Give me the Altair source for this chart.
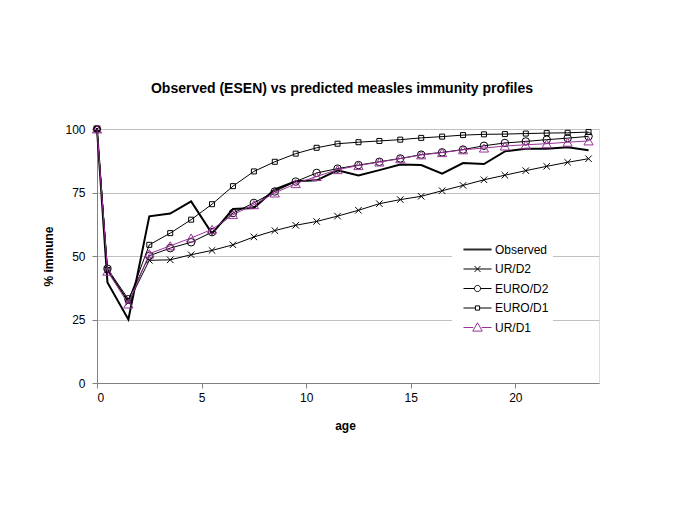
import altair as alt
import pandas as pd

ages = [0, 0.5, 1.5, 2.5, 3.5, 4.5, 5.5, 6.5, 7.5, 8.5, 9.5, 10.5, 11.5,
        12.5, 13.5, 14.5, 15.5, 16.5, 17.5, 18.5, 19.5, 20.5, 21.5, 22.5, 23.5]

observed = [100, 39.6, 25.0, 65.6, 66.7, 71.5, 58.8, 68.5, 68.9, 76.2, 79.4, 79.8, 83.7,
            81.7, 83.8, 86.0, 85.8, 82.4, 86.6, 86.2, 91.2, 92.2, 92.2, 92.8, 91.6]
ur_d2 = [100, 44.5, 31.7, 48.3, 48.5, 50.5, 52.2, 54.4, 57.5, 60.0, 62.1, 63.6, 65.7,
         68.0, 70.6, 72.2, 73.5, 75.7, 77.8, 80.0, 81.8, 83.6, 85.3, 86.9, 88.3]
euro_d2 = [100, 45.0, 33.0, 50.1, 53.1, 55.4, 59.4, 66.9, 70.9, 75.4, 79.3, 82.7, 84.4,
           85.8, 87.1, 88.4, 89.9, 90.8, 91.9, 93.4, 94.5, 95.1, 95.8, 96.4, 97.1]
euro_d1 = [100, 44.5, 32.3, 54.4, 59.0, 64.3, 70.4, 77.5, 83.3, 87.1, 90.3, 92.6, 94.2,
           94.8, 95.3, 95.8, 96.5, 97.0, 97.6, 97.9, 98.0, 98.2, 98.4, 98.5, 98.8]
ur_d1 = [100, 44.0, 31.1, 50.9, 54.0, 57.1, 60.5, 66.3, 70.2, 74.8, 78.5, 81.3, 84.0,
         85.6, 87.0, 88.3, 89.8, 90.7, 91.8, 92.5, 93.3, 93.8, 94.2, 94.8, 95.3]

series_names = ["Observed", "UR/D2", "EURO/D2", "EURO/D1", "UR/D1"]
series_values = [observed, ur_d2, euro_d2, euro_d1, ur_d1]
x_ticks = [0, 5, 10, 15, 20]
y_ticks = [0, 25, 50, 75, 100]

rows = []
for name, vals in zip(series_names, series_values):
    for a, v in zip(ages, vals):
        rows.append({"series": name, "age": a, "value": v})
df = pd.DataFrame(rows)

FONT = "Liberation Sans"
PURPLE = "#993399"

colors = ["#000000", "#000000", "#000000", "#000000", PURPLE]
widths = [2, 1, 1, 1, 1]
# plot markers (None = no marker)
markers = [
    None,
    ("M-1,-1L1,1M-1,1L1,-1", 42),
    ("circle", 56),
    ("square", 25),
    ("triangle-up", 85),
]
# legend symbols: line + marker; units of 7px (symbol size 196)
legend_paths = [
    "M-2,-0.06L2,-0.06M-2,0.06L2,0.06",
    "M-2,0L2,0M-0.42,-0.42L0.42,0.42M-0.42,0.42L0.42,-0.42",
    "M-2,0L-0.44,0M0.44,0L2,0M-0.44,0A0.44,0.44 0 1,0 0.44,0A0.44,0.44 0 1,0 -0.44,0",
    "M-2,0L-0.3,0M0.3,0L2,0M-0.3,-0.3L0.3,-0.3L0.3,0.3L-0.3,0.3Z",
    "M-2,0L-0.6,0M0.6,0L2,0M0,-0.68L0.68,0.52L-0.68,0.52Z",
]

x_enc = alt.X("age:Q", title="age",
              scale=alt.Scale(domain=[0, 24], nice=False, zero=False),
              axis=alt.Axis(values=x_ticks, grid=False, domainColor="#808080",
                            tickColor="#808080", tickSize=5, labelPadding=4,
                            labelFont=FONT, labelFontSize=12, labelColor="#000000",
                            titleFont=FONT, titleFontSize=12, titleFontWeight="bold",
                            titleColor="#000000", titleX=248, titleY=42,
                            titleBaseline="middle", titleAlign="center"))
y_enc = alt.Y("value:Q", title="% immune",
              scale=alt.Scale(domain=[0, 100], nice=False),
              axis=alt.Axis(values=y_ticks, grid=True, gridColor="#c0c0c0",
                            domainColor="#808080", tickColor="#808080", tickSize=5,
                            labelPadding=7, labelFont=FONT, labelFontSize=12,
                            labelColor="#000000", titleFont=FONT, titleFontSize=12,
                            titleFontWeight="bold", titleColor="#000000",
                            titleX=-49, titleY=127, titleAngle=-90,
                            titleBaseline="middle", titleAlign="center"))

base = alt.Chart(df)
layers = []
for name, col, w, mk in zip(series_names, colors, widths, markers):
    sub = base.transform_filter(alt.datum.series == name)
    layers.append(sub.mark_line(color=col, strokeWidth=w).encode(x=x_enc, y=y_enc))
    if mk is not None:
        layers.append(sub.mark_point(shape=mk[0], size=mk[1], filled=False,
                                     stroke=col, strokeWidth=1, opacity=1)
                      .encode(x=x_enc, y=y_enc))

leg = alt.Legend(title=None, orient="none", legendX=355, legendY=109,
                 fillColor="#ffffff", padding=4, labelFont=FONT, labelFontSize=12,
                 labelColor="#000000", labelOffset=10, symbolOffset=14,
                 symbolSize=196, rowPadding=5.5, symbolStrokeWidth=1)
legend_layer = base.transform_filter("datum.age < -1").mark_point(
    filled=False, size=196, opacity=1, strokeWidth=1).encode(
    x=x_enc, y=y_enc,
    color=alt.Color("series:N", scale=alt.Scale(domain=series_names, range=colors), legend=leg),
    shape=alt.Shape("series:N", scale=alt.Scale(domain=series_names, range=legend_paths), legend=leg),
)
layers.append(legend_layer)

chart = alt.layer(*layers).properties(
    width=502, height=254,
    padding={"left": 89, "top": 121, "right": 70, "bottom": 100},
    autosize=alt.AutoSizeParams(type="none"),
    title=alt.TitleParams("Observed (ESEN) vs predicted measles immunity profiles",
                          font=FONT, fontSize=14, fontWeight="bold", color="#000000",
                          anchor="middle", dx=-6, offset=27),
).configure_view(stroke=None).configure(background="#ffffff")

chart.save("out.html", embed_options={"renderer": "svg", "actions": False})
